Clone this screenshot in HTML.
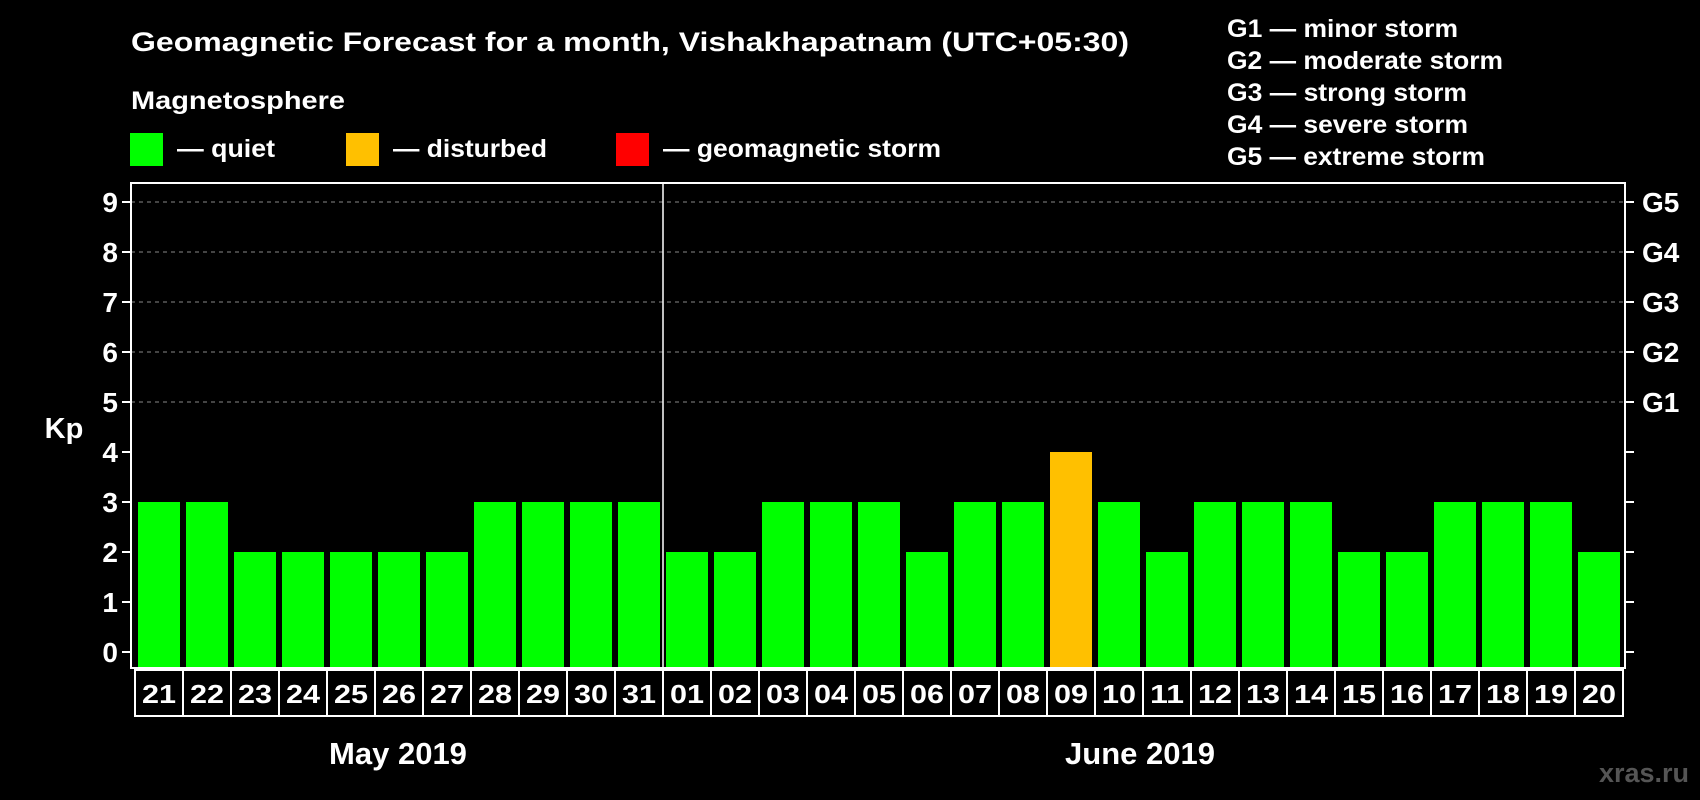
<!DOCTYPE html>
<html><head><meta charset="utf-8"><style>
html,body{margin:0;padding:0;background:#000;}
svg{display:block;font-family:"Liberation Sans",Arial,sans-serif;font-weight:bold;}
</style></head><body>
<svg id="chart" width="1700" height="800" viewBox="0 0 1700 800">
<rect width="1700" height="800" fill="#000"/>
<text x="131" y="51" fill="#fff" font-size="27" textLength="998" lengthAdjust="spacingAndGlyphs">Geomagnetic Forecast for a month, Vishakhapatnam (UTC+05:30)</text>
<text x="131" y="109" fill="#fff" font-size="25" textLength="214" lengthAdjust="spacingAndGlyphs">Magnetosphere</text>
<g><rect x="130" y="133" width="33" height="33" fill="#00ff00"/><text x="177" y="157" fill="#fff" font-size="25" textLength="98" lengthAdjust="spacingAndGlyphs">— quiet</text></g>
<g><rect x="346" y="133" width="33" height="33" fill="#ffc000"/><text x="393" y="157" fill="#fff" font-size="25" textLength="154" lengthAdjust="spacingAndGlyphs">— disturbed</text></g>
<g><rect x="616" y="133" width="33" height="33" fill="#ff0000"/><text x="663" y="157" fill="#fff" font-size="25" textLength="278" lengthAdjust="spacingAndGlyphs">— geomagnetic storm</text></g>
<g fill="#fff" font-size="25">
<text x="1227" y="37" textLength="231" lengthAdjust="spacingAndGlyphs">G1 — minor storm</text>
<text x="1227" y="69" textLength="276" lengthAdjust="spacingAndGlyphs">G2 — moderate storm</text>
<text x="1227" y="101" textLength="240" lengthAdjust="spacingAndGlyphs">G3 — strong storm</text>
<text x="1227" y="133" textLength="241" lengthAdjust="spacingAndGlyphs">G4 — severe storm</text>
<text x="1227" y="165" textLength="258" lengthAdjust="spacingAndGlyphs">G5 — extreme storm</text>
</g>
<text x="64" y="438" fill="#fff" font-size="29" text-anchor="middle">Kp</text>
<g id="grid"></g>
<g id="bars"></g>
<g id="axes"></g>
<text x="398" y="764" fill="#fff" font-size="31" text-anchor="middle">May 2019</text>
<text x="1140" y="764" fill="#fff" font-size="31" text-anchor="middle">June 2019</text>
<text x="1689" y="782" fill="#555" font-size="27" text-anchor="end">xras.ru</text>
</svg>
<script>
const days = ["21","22","23","24","25","26","27","28","29","30","31","01","02","03","04","05","06","07","08","09","10","11","12","13","14","15","16","17","18","19","20"];
const kp = [3,3,2,2,2,2,2,3,3,3,3,2,2,3,3,3,2,3,3,4,3,2,3,3,3,2,2,3,3,3,2];
const yTicks = [0,1,2,3,4,5,6,7,8,9];
const gLabels = ["G1","G2","G3","G4","G5"];
const NS="http://www.w3.org/2000/svg";
const L=131,R=1625,T=183,B=668,x0=138,step=48,bw=42;
const y=v=>652-v*50;
const xb=i=>x0+i*step;
function mk(tag,attrs,parent,txt){const e=document.createElementNS(NS,tag);for(const k in attrs)e.setAttribute(k,attrs[k]);if(txt!==undefined)e.textContent=txt;parent.appendChild(e);return e;}
const grid=document.getElementById('grid'),bars=document.getElementById('bars'),axes=document.getElementById('axes');
yTicks.forEach(v=>{
  if(v>=5){const g=mk('line',{x1:L,x2:R,y1:y(v),y2:y(v),stroke:'#888','stroke-dasharray':'4,4','stroke-width':1},grid);
  
  }
  const t1=mk('line',{x1:L-9,x2:L,y1:y(v),y2:y(v),stroke:'#fff','stroke-width':2},axes);
  
  
  const t2=mk('line',{x1:R,x2:R+9,y1:y(v),y2:y(v),stroke:'#fff','stroke-width':2},axes);
  
  
  const lb=mk('text',{x:L-13,y:y(v)+10,fill:'#fff','font-size':28,'text-anchor':'end'},axes,String(v));
  
  
});
gLabels.forEach((g,i)=>{
  const t=mk('text',{x:R+17,y:y(5+i)+10,fill:'#fff','font-size':28},axes,g);
  
  
});
kp.forEach((v,i)=>{
  const c=v>=5?'#ff0000':(v>=4?'#ffc000':'#00ff00');
  const r=mk('rect',{x:xb(i),y:y(v),width:bw,height:B-y(v),fill:c},bars);
  
  
});
const fr=mk('rect',{x:L,y:T,width:R-L,height:B-T,fill:'none',stroke:'#fff','stroke-width':2},axes);


const div=mk('line',{x1:663,x2:663,y1:T,y2:B,stroke:'#fff','stroke-width':1.5},axes);


days.forEach((d,i)=>{
  const bx=135+i*step;
  const b=mk('rect',{x:bx,y:670,width:step,height:46,fill:'none',stroke:'#fff','stroke-width':2},axes);
  
  
  const t=mk('text',{x:bx+step/2,y:703,fill:'#fff','font-size':26,'text-anchor':'middle',textLength:34,lengthAdjust:'spacingAndGlyphs'},axes,d);
  
  
});
</script>
</body></html>
